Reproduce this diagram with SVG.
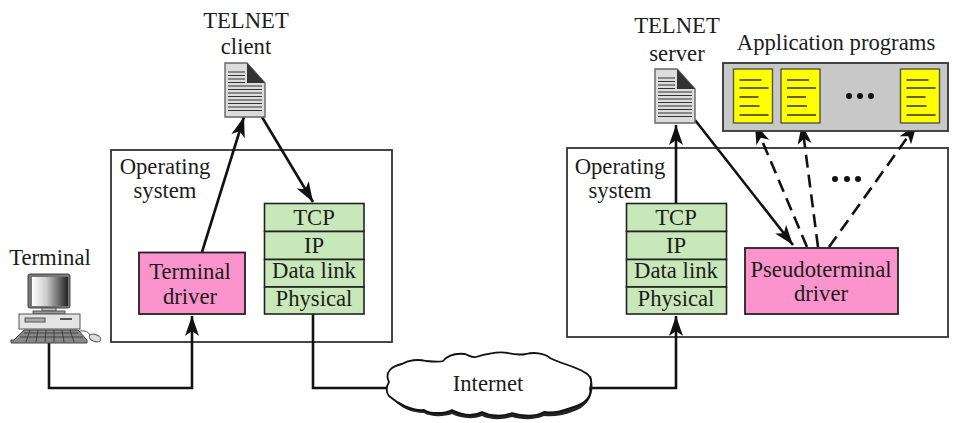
<svg xmlns="http://www.w3.org/2000/svg" width="975" height="423" viewBox="0 0 975 423">
<style>
text{font-family:"Liberation Serif","DejaVu Serif",serif;font-size:22.7px;fill:#1c1c1c;text-anchor:middle}
.os{fill:#fff;stroke:#333;stroke-width:1.8}
.g{fill:#c9e8b9;stroke:#222;stroke-width:1.6}
.p{fill:#fb94cd;stroke:#222;stroke-width:1.8}
.c{fill:none;stroke:#111;stroke-width:2.6}
.d{fill:none;stroke:#111;stroke-width:2.6;stroke-dasharray:13 7}
.y{fill:#ffff00;stroke:#554;stroke-width:1.4}
.yl{stroke:#332;stroke-width:1.4}
.doc{fill:#dcdcdc;stroke:#666;stroke-width:1.4}
.dl{stroke:#333;stroke-width:1}
</style>
<defs>
<marker id="a" markerUnits="userSpaceOnUse" markerWidth="22" markerHeight="18" refX="20" refY="8" orient="auto"><path d="M0 1L20 8L0 15L5 8Z" fill="#111"/></marker>
<g id="docicon">
<path class="doc" d="M0 0H22L40 20V54H0Z"/>
<path d="M22 0L40 20H22Z" fill="#333"/>
<path class="dl" d="M3 9H20M3 12.500H20M3 16H20M3 19.500H20M3 23H37M3 26.500H37M3 30H37M3 33.500H37M3 37H37M3 40.500H37M3 44H37M3 47.500H37"/>
</g>
<g id="appdoc">
<rect class="y" width="39" height="54"/>
<path class="yl" d="M6 11H28M6 19H35M6 28H25M6 37H26M6 46H35"/>
</g>
<linearGradient id="s"><stop offset="0" stop-color="#fff"/><stop offset=".4" stop-color="#ccc"/><stop offset="1" stop-color="#222"/></linearGradient>
</defs>
<g id="os-client"><rect class="os" x="111" y="150" width="281" height="192"/><text x="165" y="174">Operating</text><text x="165" y="198">system</text></g>
<g id="os-server"><rect class="os" x="567" y="148" width="381" height="189"/><text x="620" y="174">Operating</text><text x="620" y="198">system</text><g fill="#111"><circle cx="835" cy="179" r="3"/><circle cx="847" cy="179" r="3"/><circle cx="858" cy="179" r="3"/></g></g>
<g id="connectors">
<path class="c" d="M49 343V388H192V316" marker-end="url(#a)"/>
<path class="c" d="M202 252L244 117" marker-end="url(#a)"/>
<path class="c" d="M262 117L313 202" marker-end="url(#a)"/>
<path class="c" d="M313 314V388H390"/>
<path class="c" d="M590 388H676V316" marker-end="url(#a)"/>
<path class="c" d="M676 203V125" marker-end="url(#a)"/>
<path class="c" d="M695 120L793 245" marker-end="url(#a)"/>
<path class="d" d="M807 247L755 124" marker-end="url(#a)"/>
<path class="d" d="M818 247L802 124" marker-end="url(#a)"/>
<path class="d" d="M829 247L917 124" marker-end="url(#a)"/>
</g>
<g id="terminal">
<text x="50" y="265">Terminal</text>
<rect x="28" y="274" width="42" height="34" rx="2" fill="#777" stroke="#444"/>
<rect x="32" y="277" width="36" height="29" fill="url(#s)"/>
<rect x="42" y="308" width="14" height="3" fill="#bbb" stroke="#555"/>
<rect x="33" y="311" width="32" height="3" fill="#999" stroke="#555"/>
<rect x="19" y="314" width="61" height="15" fill="#e4e4e4" stroke="#555"/>
<rect x="25" y="318" width="20" height="4" fill="#aaa" stroke="#555"/>
<path d="M60 319H72" stroke="#555" stroke-width="2"/>
<path d="M14 340L24 330H78L87 340V343H11V340Z" fill="#888" stroke="#444"/>
<path d="M24 333H78M20 337H83M30 330L26 342M38 330L36 342M46 330L45 342M54 330L54 342M62 330L64 342M70 330L74 342" stroke="#333" stroke-width="0.8"/>
<path d="M80 331Q88 330 90 335" fill="none" stroke="#555"/>
<ellipse cx="95" cy="338" rx="6" ry="3.500" transform="rotate(20 95 338)" fill="#ddd" stroke="#555"/>
</g>
<g id="terminal-driver"><rect class="p" x="139" y="252.500" width="106" height="61.500"/><text x="190" y="279">Terminal</text><text x="190" y="304">driver</text></g>
<g id="telnet-client"><text x="246" y="28">TELNET</text><text x="246" y="54">client</text><use href="#docicon" x="225" y="63"/></g>
<g id="stack-client">
<rect class="g" x="264.500" y="203.500" width="99.500" height="28"/><rect class="g" x="264.500" y="231.500" width="99.500" height="28"/><rect class="g" x="264.500" y="259.500" width="99.500" height="27.500"/><rect class="g" x="264.500" y="287" width="99.500" height="27"/>
<text x="314" y="225">TCP</text><text x="314" y="253">IP</text><text x="314" y="278">Data link</text><text x="314" y="306">Physical</text>
</g>
<g id="telnet-server"><text x="677" y="33">TELNET</text><text x="677" y="61">server</text><use href="#docicon" x="655" y="69"/></g>
<g id="applications">
<text x="836" y="50">Application programs</text>
<rect x="723" y="63" width="225" height="68" fill="#c8c8c8" stroke="#333" stroke-width="1.8"/>
<use href="#appdoc" x="733.500" y="69"/><use href="#appdoc" x="781" y="69"/><use href="#appdoc" x="900.500" y="69"/>
<g fill="#111"><circle cx="849" cy="96" r="3"/><circle cx="860" cy="96" r="3"/><circle cx="871" cy="96" r="3"/></g>
</g>
<g id="stack-server">
<rect class="g" x="626.500" y="203.500" width="100" height="28"/><rect class="g" x="626.500" y="231.500" width="100" height="28"/><rect class="g" x="626.500" y="259.500" width="100" height="27.500"/><rect class="g" x="626.500" y="287" width="100" height="27"/>
<text x="676" y="225">TCP</text><text x="676" y="253">IP</text><text x="676" y="278">Data link</text><text x="676" y="306">Physical</text>
</g>
<g id="pseudoterminal-driver"><rect class="p" x="745" y="248" width="153" height="66"/><text x="821" y="277">Pseudoterminal</text><text x="821" y="301">driver</text></g>
<g id="internet">
<path d="M392 398C400 408 412 413 424 413C430 417 444 417 452 414C460 418 472 420 482 416C490 420 502 420 512 417C522 420 535 420 544 416C552 417 562 416 572 412C588 407 596 394 591 376L585 376L560 400L430 404Z" fill="#222"/>
<path d="M389 382C384 372 392 366 402 364C408 360 418 359 426 361C436 362 441 362 443 361C448 355 456 353 465 354C470 356 473 358 476 357C486 354 497 351 508 353C516 355 520 355 526 354C534 352 544 353 550 358C562 364 574 366 584 372C592 376 592 382 590 389C592 396 586 404 570 408C560 412 552 413 544 412C535 417 522 416 512 413C502 417 490 416 482 412C472 417 460 414 452 410C444 414 430 414 424 410C412 411 398 404 389 396C386 392 386 387 389 382Z" fill="#fff" stroke="#111" stroke-width="1.800"/>
<text x="488" y="391">Internet</text>
</g>
</svg>
